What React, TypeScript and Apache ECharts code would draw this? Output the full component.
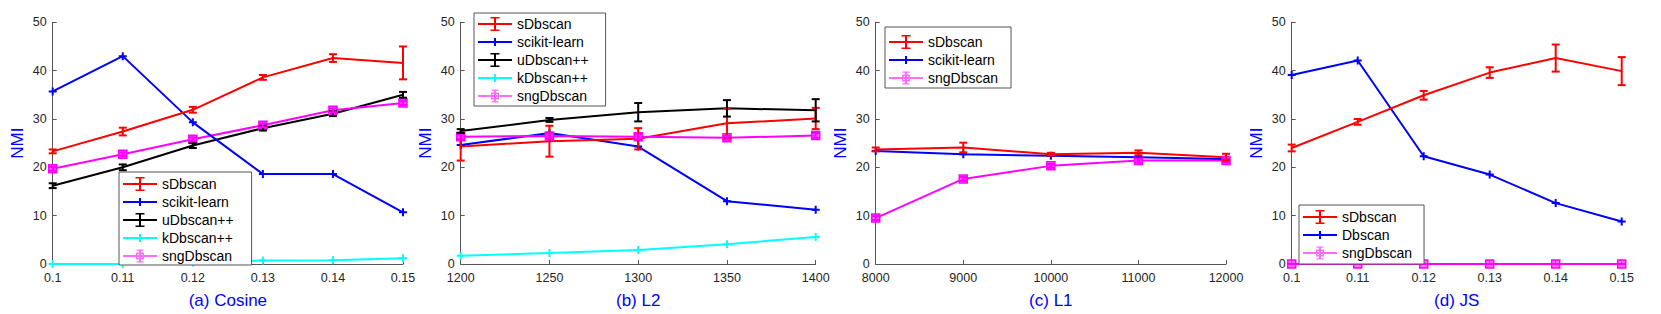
import React, { useEffect, useRef } from "react";
import * as echarts from "echarts";

const FONT = "'Liberation Sans', Arial, Helvetica, sans-serif";

// x categories
const cosineX = ["0.1", "0.11", "0.12", "0.13", "0.14", "0.15"];
const l2X = ["1200", "1250", "1300", "1350", "1400"];
const l1X = ["8000", "9000", "10000", "11000", "12000"];
const jsX = ["0.1", "0.11", "0.12", "0.13", "0.14", "0.15"];
const yTicks = { min: 0, max: 50, interval: 10 };

// (a) Cosine
const cosSD = [23.3, 27.4, 31.9, 38.6, 42.6, 41.6];
const cosSDErr = [0.4, 0.8, 0.6, 0.5, 0.8, 3.4];
const cosSK = [35.7, 43.0, 29.3, 18.6, 18.6, 10.7];
const cosUD = [16.2, 20.0, 24.5, 28.1, 31.1, 35.0];
const cosUDErr = [0.5, 0.6, 0.5, 0.5, 0.5, 0.6];
const cosKD = [0, 0, 0.3, 0.7, 0.8, 1.2];
const cosSNG = [19.7, 22.7, 25.8, 28.7, 31.8, 33.3];
const cosSNGErr = [0.4, 0.4, 0.4, 0.4, 0.4, 0.4];

// (b) L2
const l2SD = [24.3, 25.4, 25.9, 29.1, 30.1];
const l2SDErr = [2.9, 3.2, 2.2, 3.0, 2.2];
const l2SK = [24.6, 27.1, 24.3, 13.0, 11.2];
const l2UD = [27.5, 29.8, 31.4, 32.2, 31.8];
const l2UDErr = [0.4, 0.4, 1.9, 1.7, 2.3];
const l2KD = [1.7, 2.3, 2.9, 4.1, 5.6];
const l2SNG = [26.3, 26.5, 26.3, 26.1, 26.6];
const l2SNGErr = [0.5, 0.5, 0.5, 0.4, 0.5];

// (c) L1
const l1SD = [23.7, 24.1, 22.7, 23.0, 22.1];
const l1SDErr = [0.4, 1.0, 0.3, 0.5, 0.7];
const l1SK = [23.4, 22.7, 22.4, 22.1, 21.7];
const l1SNG = [9.5, 17.6, 20.3, 21.4, 21.4];
const l1SNGErr = [0.4, 0.4, 0.4, 0.4, 0.4];

// (d) JS
const jsSD = [24.0, 29.4, 34.9, 39.6, 42.6, 39.9];
const jsSDErr = [0.7, 0.6, 0.9, 1.1, 2.8, 2.9];
const jsDB = [39.1, 42.1, 22.3, 18.5, 12.6, 8.8];
const jsSNG = [0, 0, 0, 0, 0, 0];
const jsSNGErr = [0, 0, 0, 0, 0, 0];

const panelTitles = ["(a) Cosine", "(b) L2", "(c) L1", "(d) JS"];

const RED = "#ff0000";
const BLUE = "#0000ff";
const BLACK = "#000000";
const CYAN = "#00ffff";
const MAGENTA = "#ff00ff";

const PLUS = "path://M3,0H5V3H8V5H5V8H3V5H0V3H3Z";
const ANCH = " M0,0H0.05V0.05H0Z M33.95,13.95H34V14H33.95Z";
const ICON_ERR = "path://M0,6H34V8H0Z M16,0.5H18V13.5H16Z M12.5,0H21.5V1.5H12.5Z M12.5,12.5H21.5V14H12.5Z" + ANCH;
const ICON_PLUS = "path://M0,6H34V8H0Z M16,3H18V11H16Z" + ANCH;
const ICON_SQ =
  "path://M0,6H34V8H0Z M16,1H18V13H16Z M13.5,0.5H20.5V1.7H13.5Z M13.5,12.3H20.5V13.5H13.5Z M13,3.5H21V5H13Z M13,9H21V10.5H13Z M13,3.5H14.5V10.5H13Z M19.5,3.5H21V10.5H19.5Z" +
  ANCH;

function lineSeries(name: string, color: string, idx: number, vals: number[], kind: "none" | "plus" | "square") {
  const s: any = {
    type: "line",
    name,
    xAxisIndex: idx,
    yAxisIndex: idx,
    data: vals,
    color,
    lineStyle: { width: 2, color },
    itemStyle: { color, borderWidth: 0 },
    z: 2,
    silent: true,
  };
  if (kind === "none") {
    s.symbol = "none";
    s.showSymbol = false;
  } else if (kind === "plus") {
    s.symbol = PLUS;
    s.symbolSize = 8;
    s.showSymbol = true;
    s.symbolKeepAspect = true;
  } else {
    s.symbol = "rect";
    s.symbolSize = 8;
    s.showSymbol = true;
    s.itemStyle = { color: "rgba(255,60,255,0.75)", borderColor: color, borderWidth: 1.5 };
  }
  return s;
}

function errSeries(name: string, color: string, idx: number, vals: number[], errs: number[]) {
  return {
    type: "custom",
    name,
    xAxisIndex: idx,
    yAxisIndex: idx,
    z: 3,
    silent: true,
    data: vals.map((v, i) => [i, v - errs[i], v + errs[i]]),
    encode: { x: 0, y: [1, 2] },
    renderItem: (_p: any, api: any) => {
      const x = api.value(0);
      const lo = api.coord([x, api.value(1)]);
      const hi = api.coord([x, api.value(2)]);
      const w = 4;
      const st = { stroke: color, lineWidth: 2 };
      return {
        type: "group",
        children: [
          { type: "line", shape: { x1: lo[0], y1: lo[1], x2: hi[0], y2: hi[1] }, style: st },
          { type: "line", shape: { x1: lo[0] - w, y1: lo[1], x2: lo[0] + w, y2: lo[1] }, style: st },
          { type: "line", shape: { x1: hi[0] - w, y1: hi[1], x2: hi[0] + w, y2: hi[1] }, style: st },
        ],
      };
    },
  };
}

const grids = [
  { left: 52.7, top: 22.3, width: 350.3, height: 249.4 },
  { left: 460.7, top: 22.3, width: 355, height: 249.4 },
  { left: 875.7, top: 22.3, width: 350.3, height: 249.4 },
  { left: 1291.7, top: 22.3, width: 330, height: 249.4 },
];

function xAxis(idx: number, cats: string[]) {
  return {
    type: "category",
    gridIndex: idx,
    data: cats,
    boundaryGap: false,
    axisLine: { onZero: false, lineStyle: { color: "#555", width: 1 } },
    axisTick: { inside: true, length: 4, lineStyle: { color: "#555" } },
    axisLabel: { color: "#262626", fontSize: 12.5, margin: 7, fontFamily: FONT, interval: 0 },
    splitLine: { show: false },
    name: panelTitles[idx],
    nameLocation: "middle",
    nameGap: 28,
    nameTextStyle: { color: "#0000ff", fontSize: 17, fontFamily: FONT },
  };
}

function yAxis(idx: number) {
  return {
    type: "value",
    gridIndex: idx,
    min: yTicks.min,
    max: yTicks.max,
    interval: yTicks.interval,
    axisLine: { show: true, lineStyle: { color: "#555", width: 1 } },
    axisTick: { show: true, inside: true, length: 4, lineStyle: { color: "#555" } },
    axisLabel: { color: "#262626", fontSize: 12.5, margin: 6, fontFamily: FONT },
    splitLine: { show: false },
    name: "NMI",
    nameLocation: "middle",
    nameGap: 27,
    nameTextStyle: { color: "#0000ff", fontSize: 17, fontFamily: FONT },
  };
}

function legend(left: number, top: number, padding: number[], items: { name: string; icon: string }[]) {
  return {
    orient: "vertical",
    left,
    top,
    itemWidth: 34,
    itemHeight: 14,
    itemGap: 4,
    padding,
    backgroundColor: "#ffffff",
    borderColor: "#555",
    borderWidth: 1,
    borderRadius: 0,
    selectedMode: false,
    itemStyle: { borderWidth: 0 },
    textStyle: { fontSize: 14, color: "#000", fontFamily: FONT },
    data: items,
    z: 10,
  };
}

export default function App() {
  const ref = useRef<HTMLDivElement>(null);
  useEffect(() => {
    if (!ref.current) return;
    const chart = echarts.init(ref.current, undefined, { renderer: "svg" });
    const series: any[] = [
      // (a)
      lineSeries("kDbscan++", CYAN, 0, cosKD, "plus"),
      lineSeries("uDbscan++", BLACK, 0, cosUD, "none"),
      errSeries("e-a-ud", BLACK, 0, cosUD, cosUDErr),
      lineSeries("sngDbscan", MAGENTA, 0, cosSNG, "square"),
      errSeries("e-a-sng", MAGENTA, 0, cosSNG, cosSNGErr),
      lineSeries("scikit-learn", BLUE, 0, cosSK, "plus"),
      lineSeries("sDbscan", RED, 0, cosSD, "none"),
      errSeries("e-a-sd", RED, 0, cosSD, cosSDErr),
      // (b)
      lineSeries("kDbscan++", CYAN, 1, l2KD, "plus"),
      lineSeries("scikit-learn", BLUE, 1, l2SK, "plus"),
      lineSeries("sDbscan", RED, 1, l2SD, "none"),
      errSeries("e-b-sd", RED, 1, l2SD, l2SDErr),
      lineSeries("sngDbscan", MAGENTA, 1, l2SNG, "square"),
      errSeries("e-b-sng", MAGENTA, 1, l2SNG, l2SNGErr),
      lineSeries("uDbscan++", BLACK, 1, l2UD, "none"),
      errSeries("e-b-ud", BLACK, 1, l2UD, l2UDErr),
      // (c)
      lineSeries("sngDbscan", MAGENTA, 2, l1SNG, "square"),
      errSeries("e-c-sng", MAGENTA, 2, l1SNG, l1SNGErr),
      lineSeries("scikit-learn", BLUE, 2, l1SK, "plus"),
      lineSeries("sDbscan", RED, 2, l1SD, "none"),
      errSeries("e-c-sd", RED, 2, l1SD, l1SDErr),
      // (d)
      lineSeries("Dbscan", BLUE, 3, jsDB, "plus"),
      lineSeries("sDbscan", RED, 3, jsSD, "none"),
      errSeries("e-d-sd", RED, 3, jsSD, jsSDErr),
      lineSeries("sngDbscan", MAGENTA, 3, jsSNG, "square"),
      errSeries("e-d-sng", MAGENTA, 3, jsSNG, jsSNGErr),
    ];
    const five = [
      { name: "sDbscan", icon: ICON_ERR },
      { name: "scikit-learn", icon: ICON_PLUS },
      { name: "uDbscan++", icon: ICON_ERR },
      { name: "kDbscan++", icon: ICON_PLUS },
      { name: "sngDbscan", icon: ICON_SQ },
    ];
    chart.setOption({
      animation: false,
      backgroundColor: "#ffffff",
      grid: grids,
      xAxis: [xAxis(0, cosineX), xAxis(1, l2X), xAxis(2, l1X), xAxis(3, jsX)],
      yAxis: [yAxis(0), yAxis(1), yAxis(2), yAxis(3)],
      legend: [
        legend(119, 172, [5, 18, 2, 4], five),
        legend(474, 13, [4, 17, 3, 4], five),
        legend(885, 27, [8, 13, 3, 4], [
          { name: "sDbscan", icon: ICON_ERR },
          { name: "scikit-learn", icon: ICON_PLUS },
          { name: "sngDbscan", icon: ICON_SQ },
        ]),
        legend(1299, 205, [5, 12, 4, 4], [
          { name: "sDbscan", icon: ICON_ERR },
          { name: "Dbscan", icon: ICON_PLUS },
          { name: "sngDbscan", icon: ICON_SQ },
        ]),
      ],
      series,
    });
    return () => chart.dispose();
  }, []);
  return (
    <div
      ref={ref}
      style={{ position: "fixed", left: 0, top: 0, width: 1661, height: 314, background: "#fff" }}
    />
  );
}
